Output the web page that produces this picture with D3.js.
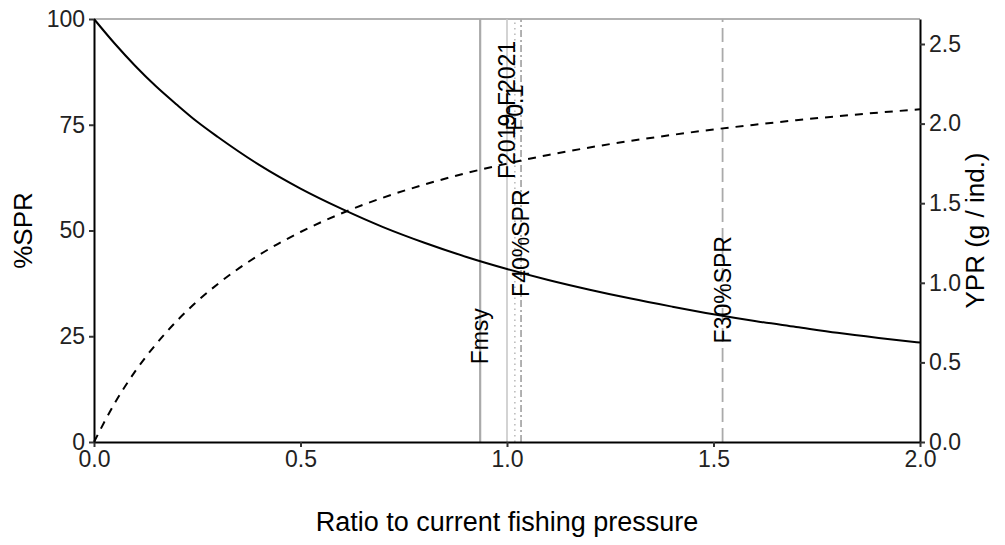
<!DOCTYPE html>
<html>
<head>
<meta charset="utf-8">
<script src="https://cdn.jsdelivr.net/npm/d3@7"></script>
<style>
  html, body { margin: 0; padding: 0; background: #fff; }
  svg { display: block; font-family: "Liberation Sans", Arial, Helvetica, sans-serif; }
</style>
</head>
<body>
<svg id="chart" width="1005" height="545"></svg>
<script>
// ---- data ----
const ratio = [0, 0.05, 0.1, 0.15, 0.2, 0.25, 0.3, 0.4, 0.5, 0.6, 0.7, 0.8, 0.9, 1.0, 1.1, 1.2, 1.3, 1.4, 1.5, 1.6, 1.7, 1.8, 1.9, 2.0];
const sprValues = [100, 94.2, 88.9, 84.1, 79.8, 75.7, 72.1, 65.5, 59.9, 55.1, 50.8, 47.1, 43.8, 40.9, 38.3, 36.0, 33.9, 32.0, 30.2, 28.6, 27.2, 25.8, 24.6, 23.5];
const yprValues = [0, 0.243, 0.445, 0.614, 0.759, 0.884, 0.993, 1.175, 1.319, 1.437, 1.535, 1.617, 1.688, 1.749, 1.803, 1.850, 1.892, 1.929, 1.963, 1.993, 2.021, 2.046, 2.069, 2.090];

const refNames = ["Fmsy", "F2019-F2021", "F0.1", "F40%SPR", "F30%SPR"];
const refRatios = [0.935, 1.0, 1.019, 1.034, 1.522];
const refLabelY = [25, 78.5, 79, 47, 36];   // label centres, in %SPR units

const xTicks = [0, 0.5, 1.0, 1.5, 2.0];
const leftTicks = [0, 25, 50, 75, 100];
const rightTicks = [0, 0.5, 1.0, 1.5, 2.0, 2.5];

// ---- styles ----
const refStyles = [
  {stroke: "#aaaaaa", width: 2.2, dash: null},
  {stroke: "#c8c8c8", width: 1.6, dash: null},
  {stroke: "#bdbdbd", width: 1.6, dash: "1.5,4"},
  {stroke: "#aaaaaa", width: 1.8, dash: "7,3,2,3"},
  {stroke: "#aaaaaa", width: 1.8, dash: "14,6"}
];

const svg = d3.select("#chart");
const m = {left: 94, right: 85, top: 19, bottom: 103};
const W = 1005, H = 545;

const x = d3.scaleLinear().domain([0, 2]).range([m.left, W - m.right]);
const yL = d3.scaleLinear().domain([0, 100]).range([H - m.bottom, m.top]);
const yR = d3.scaleLinear().domain([0, 2.657]).range([H - m.bottom, m.top]);

// top border (grey)
svg.append("line")
  .attr("x1", x(0)).attr("x2", x(2))
  .attr("y1", yL(100)).attr("y2", yL(100))
  .attr("stroke", "#999").attr("stroke-width", 1.5);

// reference vertical lines
refRatios.forEach((r, i) => {
  const s = refStyles[i];
  svg.append("line")
    .attr("x1", x(r)).attr("x2", x(r))
    .attr("y1", yL(0)).attr("y2", yL(100))
    .attr("stroke", s.stroke)
    .attr("stroke-width", s.width)
    .attr("stroke-dasharray", s.dash);
});

// curves
const data = ratio.map((r, i) => ({r, spr: sprValues[i], ypr: yprValues[i]}));

svg.append("path")
  .datum(data)
  .attr("fill", "none")
  .attr("stroke", "#000")
  .attr("stroke-width", 2)
  .attr("d", d3.line().x(d => x(d.r)).y(d => yL(d.spr)).curve(d3.curveMonotoneX));

svg.append("path")
  .datum(data)
  .attr("fill", "none")
  .attr("stroke", "#000")
  .attr("stroke-width", 2)
  .attr("stroke-dasharray", "8,7")
  .attr("d", d3.line().x(d => x(d.r)).y(d => yR(d.ypr)).curve(d3.curveMonotoneX));

// reference labels
refNames.forEach((name, i) => {
  const cx = x(refRatios[i]), cy = yL(refLabelY[i]);
  svg.append("text")
    .attr("transform", `translate(${cx},${cy}) rotate(-90)`)
    .attr("text-anchor", "middle")
    .attr("dominant-baseline", "central")
    .attr("font-size", 23)
    .attr("fill", "#000")
    .text(name);
});

// axes
const axStyle = g => {
  g.select(".domain").attr("stroke", "#000").attr("stroke-width", 2);
  g.selectAll(".tick line").attr("stroke", "#333").attr("stroke-width", 2);
  g.selectAll(".tick text").attr("font-size", 23).attr("fill", "#222").attr("font-family", "Liberation Sans, Arial, sans-serif");
};

svg.append("g")
  .attr("transform", `translate(0,${yL(0)})`)
  .call(d3.axisBottom(x).tickValues(xTicks).tickFormat(d3.format(".1f")).tickSize(5).tickSizeOuter(0).tickPadding(4))
  .call(axStyle);

svg.append("g")
  .attr("transform", `translate(${x(0)},0)`)
  .call(d3.axisLeft(yL).tickValues(leftTicks).tickFormat(d3.format("d")).tickSize(5).tickSizeOuter(0).tickPadding(4))
  .call(axStyle);

svg.append("g")
  .attr("transform", `translate(${x(2)},0)`)
  .call(d3.axisRight(yR).tickValues(rightTicks).tickFormat(d3.format(".1f")).tickSize(5).tickSizeOuter(0).tickPadding(4))
  .call(axStyle);

// axis titles
svg.append("text")
  .attr("x", (x(0) + x(2)) / 2).attr("y", 531)
  .attr("text-anchor", "middle")
  .attr("font-size", 27)
  .text("Ratio to current fishing pressure");

svg.append("text")
  .attr("transform", `translate(32,${(yL(0) + yL(100)) / 2}) rotate(-90)`)
  .attr("text-anchor", "middle")
  .attr("font-size", 26)
  .text("%SPR");

svg.append("text")
  .attr("transform", `translate(984,${(yL(0) + yL(100)) / 2}) rotate(-90)`)
  .attr("text-anchor", "middle")
  .attr("font-size", 26)
  .text("YPR (g / ind.)");
</script>
</body>
</html>
